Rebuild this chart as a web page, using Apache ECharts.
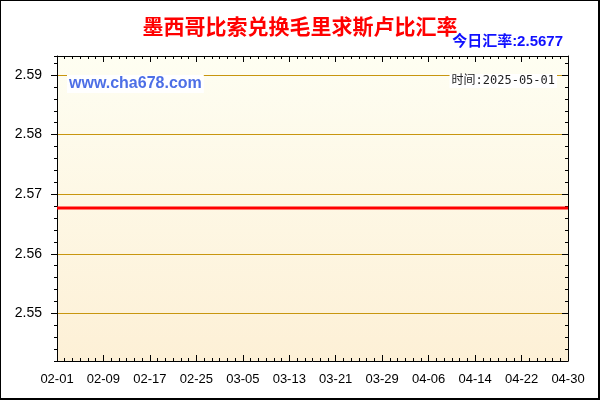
<!DOCTYPE html>
<html><head><meta charset="utf-8">
<script src="https://cdn.jsdelivr.net/npm/echarts@6/dist/echarts.min.js"></script>
<style>
html,body{margin:0;padding:0;background:#fff}
#c{width:600px;height:400px}
#b{position:absolute;left:0;top:0;width:600px;height:400px;box-sizing:border-box;border:1px solid #000;border-right-width:2px;border-bottom-width:2px;pointer-events:none}
</style>
</head><body><div id="c"></div><div id="b"></div>
<script>
const titleText = '墨西哥比索兑换毛里求斯卢比汇率';
const todayLabel = '今日汇率:2.5677';
const siteLabel = 'www.cha678.com';
const timeLabel = '时间:2025-05-01';
const dates = [
 '02-01','02-02','02-03','02-04','02-05','02-06','02-07','02-08','02-09','02-10','02-11','02-12','02-13','02-14',
 '02-15','02-16','02-17','02-18','02-19','02-20','02-21','02-22','02-23','02-24','02-25','02-26','02-27','02-28',
 '03-01','03-02','03-03','03-04','03-05','03-06','03-07','03-08','03-09','03-10','03-11','03-12','03-13','03-14',
 '03-15','03-16','03-17','03-18','03-19','03-20','03-21','03-22','03-23','03-24','03-25','03-26','03-27','03-28',
 '03-29','03-30','03-31',
 '04-01','04-02','04-03','04-04','04-05','04-06','04-07','04-08','04-09','04-10','04-11','04-12','04-13','04-14',
 '04-15','04-16','04-17','04-18','04-19','04-20','04-21','04-22','04-23','04-24','04-25','04-26','04-27','04-28',
 '04-29','04-30'
];
const rates = [
 2.5677,2.5677,2.5677,2.5677,2.5677,2.5677,2.5677,2.5677,2.5677,2.5677,2.5677,2.5677,2.5677,2.5677,
 2.5677,2.5677,2.5677,2.5677,2.5677,2.5677,2.5677,2.5677,2.5677,2.5677,2.5677,2.5677,2.5677,2.5677,
 2.5677,2.5677,2.5677,2.5677,2.5677,2.5677,2.5677,2.5677,2.5677,2.5677,2.5677,2.5677,2.5677,2.5677,
 2.5677,2.5677,2.5677,2.5677,2.5677,2.5677,2.5677,2.5677,2.5677,2.5677,2.5677,2.5677,2.5677,2.5677,
 2.5677,2.5677,2.5677,
 2.5677,2.5677,2.5677,2.5677,2.5677,2.5677,2.5677,2.5677,2.5677,2.5677,2.5677,2.5677,2.5677,2.5677,
 2.5677,2.5677,2.5677,2.5677,2.5677,2.5677,2.5677,2.5677,2.5677,2.5677,2.5677,2.5677,2.5677,2.5677,
 2.5677,2.5677
];
const yTicks = [2.55, 2.56, 2.57, 2.58, 2.59];
const yMin = 2.542, yMax = 2.5932;
const yMinorStep = 0.002;
const xStep = 8;

const black = '#000';
function xAxisDef(pos, labels) {
  return {
    type: 'value', position: pos, min: 0, max: dates.length - 1, interval: xStep,
    axisLine: {show: true, lineStyle: {color: black, width: 1}},
    axisTick: {show: true, inside: true, length: 6, lineStyle: {color: black}},
    minorTick: {show: true, splitNumber: 6, length: 3, lineStyle: {color: black}},
    axisLabel: {show: labels, formatter: v => dates[v] || '', color: black, fontSize: 13,
      fontFamily: "'Liberation Sans', Arial, sans-serif", margin: 12},
    splitLine: {show: false}
  };
}
function yMajor(pos, inside, labels) {
  return {
    type: 'value', position: pos, min: yMin, max: yMax,
    axisLine: {show: true, lineStyle: {color: black, width: 1}},
    axisTick: {show: true, inside: inside, length: 6, customValues: yTicks, lineStyle: {color: black}},
    axisLabel: {show: labels, customValues: yTicks, formatter: v => v.toFixed(2), color: black, fontSize: 14,
      fontFamily: "'Liberation Sans', Arial, sans-serif", margin: 15},
    splitLine: {show: labels, lineStyle: {color: '#c8960f', width: 1}}
  };
}
function yMinor(pos, inside) {
  return {
    type: 'value', position: pos, min: yMin, max: yMax, interval: yMinorStep,
    axisLine: {show: false},
    axisTick: {show: true, inside: inside, length: 3, lineStyle: {color: black}},
    axisLabel: {show: false}, splitLine: {show: false}
  };
}

const chart = echarts.init(document.getElementById('c'));
chart.setOption({
  animation: false,
  backgroundColor: '#fff',
  title: {
    text: titleText, left: 'center', top: 11,
    textStyle: {color: '#ff0000', fontSize: 21, fontWeight: 'bold', fontFamily: "'Noto Sans CJK SC', sans-serif"}
  },
  grid: {
    left: 57, right: 32, top: 56, bottom: 39, show: true, borderWidth: 0,
    backgroundColor: {type: 'linear', x: 0, y: 0, x2: 0, y2: 1,
      colorStops: [{offset: 0, color: '#fefef2'}, {offset: 1, color: '#fdf0d6'}]}
  },
  xAxis: [xAxisDef('bottom', true), xAxisDef('top', false)],
  yAxis: [yMajor('left', false, true), yMinor('left', false), yMajor('right', true, false), yMinor('right', true)],
  graphic: [
    {type: 'text', x: 563, y: 42, z: 10, style: {text: todayLabel, align: 'right', verticalAlign: 'middle',
      fill: '#1010ff', font: "bold 15px 'Liberation Sans', 'Noto Sans CJK SC', sans-serif"}},
    {type: 'text', x: 67, y: 84, z: 10, style: {text: siteLabel, align: 'left', verticalAlign: 'middle',
      fill: '#4d6fe6', font: "bold 16px 'Liberation Sans', Arial, sans-serif",
      backgroundColor: '#fff', padding: [1, 2, 1, 2]}},
    {type: 'text', x: 557, y: 81, z: 10, style: {text: timeLabel, align: 'right', verticalAlign: 'middle',
      fill: '#222', font: "12px 'DejaVu Sans Mono', 'Noto Sans CJK SC', monospace",
      backgroundColor: '#fff', padding: [1, 2, 1, 2]}}
  ],
  series: [{
    type: 'line', xAxisIndex: 0, yAxisIndex: 0, showSymbol: false, symbol: 'none',
    lineStyle: {color: '#ff0000', width: 3}, z: 5,
    data: rates.map((v, i) => [i, v])
  }]
});
</script>
</body></html>
